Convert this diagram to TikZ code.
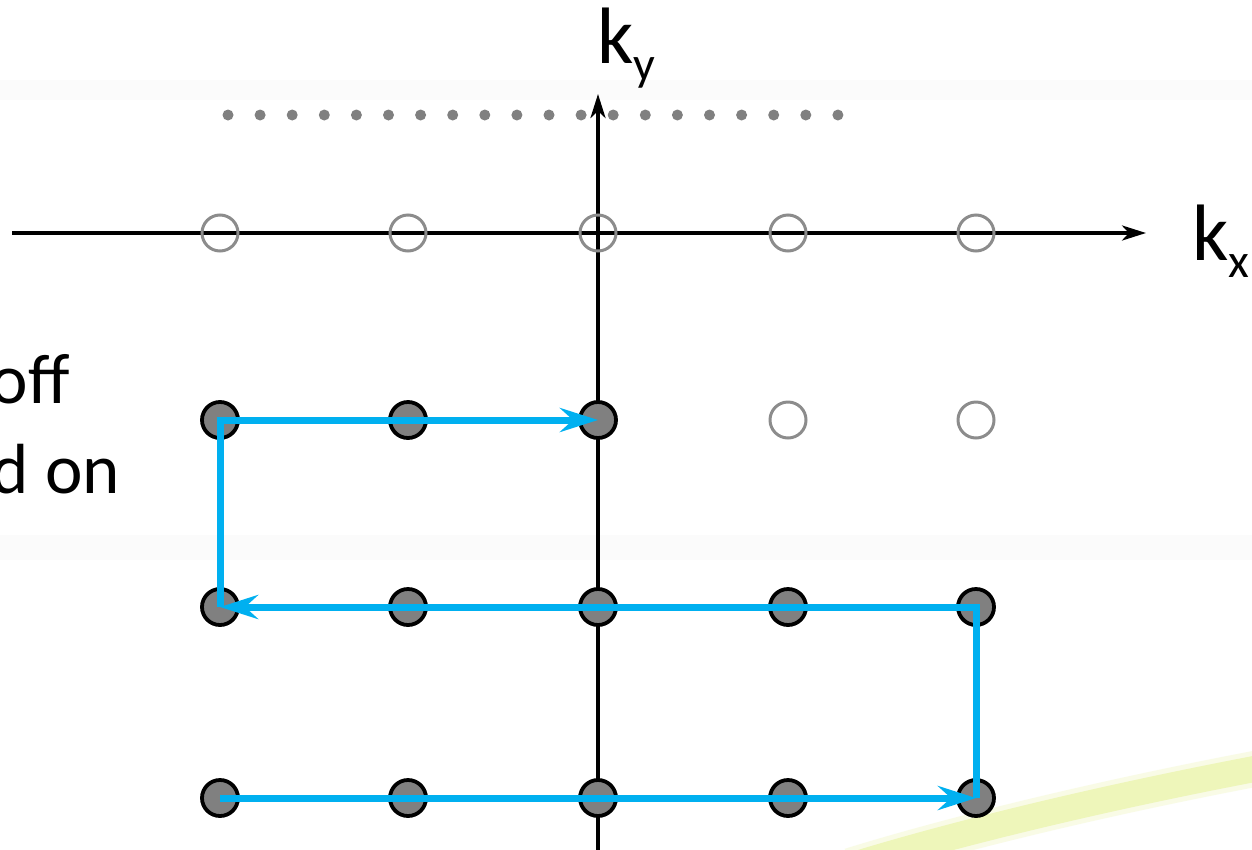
\documentclass[tikz,border=0pt]{standalone}
\usepackage{fontspec}
\setmainfont{Carlito}
\usetikzlibrary{arrows.meta}
\definecolor{pathblue}{RGB}{0,176,240}
\definecolor{dotgray}{RGB}{128,128,128}
\definecolor{ringgray}{RGB}{140,140,140}
\definecolor{swooshgreen}{RGB}{238,246,186}
\definecolor{bandgray}{RGB}{251,251,251}

\begin{document}
\begin{tikzpicture}[x=1pt,y=-1pt,
  ondot/.style={circle, draw=black, fill=dotgray, line width=3.8pt,
    minimum size=36pt, inner sep=0pt},
  offdot/.style={circle, draw=ringgray, line width=3pt,
    minimum size=36pt, inner sep=0pt},
  axisline/.style={line width=3.8pt,
    -{Stealth[length=24pt,width=15pt,inset=7pt]}},
  scan/.style={draw=pathblue, line width=7pt,
    -{Stealth[length=38pt,width=24pt,inset=13pt]}},
  axislabel/.style={inner sep=0pt, anchor=base west,
    font=\fontsize{80}{80}\selectfont},
  sidetext/.style={inner sep=0pt, anchor=base east,
    font=\fontsize{71}{71}\selectfont}
]
\useasboundingbox (0,0) rectangle (1252,849);
\clip (0,0) rectangle (1252,849);

% background
\fill[white] (0,0) rectangle (1252,849);
\fill[bandgray] (0,80) rectangle (1252,100);
\fill[bandgray] (0,535) rectangle (1252,560);
\draw[swooshgreen, line width=36pt, opacity=0.35]
  (850,866) .. controls (950,835) and (1100,798) .. (1270,766);
\draw[swooshgreen, line width=26pt]
  (850,866) .. controls (950,835) and (1100,798) .. (1270,766);

% dotted row above the axis
\foreach \i in {0,...,19}
  \fill[dotgray] (228+32.1*\i,115) circle (5.5pt);

% axes
\coordinate (ybot) at (598,870);
\coordinate (ytop) at (598,94);
\coordinate (xleft) at (12,233);
\coordinate (xright) at (1146,233);
\draw[axisline] (ybot) -- (ytop);
\draw[axisline] (xleft) -- (xright);

\node[axislabel] (ky) at (597,63)
  {k\raisebox{-17pt}{\fontsize{48}{48}\selectfont y}};
\node[axislabel] (kx) at (1192,260)
  {k\raisebox{-17pt}{\fontsize{48}{48}\selectfont x}};

% side text
\node[sidetext] (t1) at (70,403) {off};
\node[sidetext] (t2) at (120,493) {d on};

% sample grid: columns 1..5, rows 1..4
\foreach \c/\x in {1/220,2/408,3/598,4/788,5/976}
  \node[offdot] (n-\c-1) at (\x,233) {};
\foreach \c/\x in {1/220,2/408,3/598}
  \node[ondot] (n-\c-2) at (\x,420) {};
\foreach \c/\x in {4/788,5/976}
  \node[offdot] (n-\c-2) at (\x,420) {};
\foreach \c/\x in {1/220,2/408,3/598,4/788,5/976}
  \node[ondot] (n-\c-3) at (\x,607) {};
\foreach \c/\x in {1/220,2/408,3/598,4/788,5/976}
  \node[ondot] (n-\c-4) at (\x,798) {};

% acquisition path
\draw[scan] (n-1-4.center) -- (n-5-4.center);
\draw[scan] (n-5-4.center) -- (n-5-3.center) -- (n-1-3.center);
\draw[scan] (n-1-3.center) -- (n-1-2.center) -- (n-3-2.center);
\end{tikzpicture}
\end{document}
